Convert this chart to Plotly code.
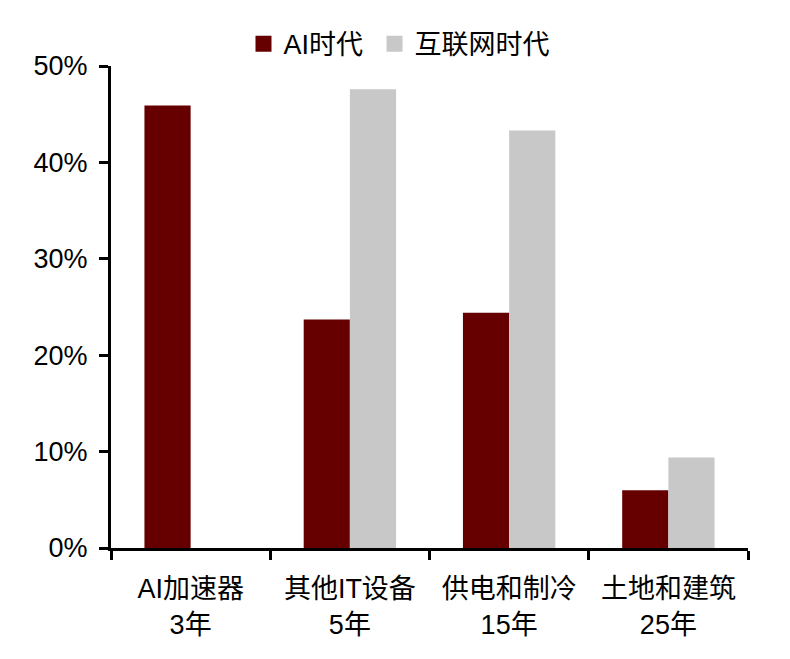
import plotly.graph_objects as go

categories = ["AI加速器<br>3年", "其他IT设备<br>5年", "供电和制冷<br>15年", "土地和建筑<br>25年"]
ai_era = [45.9, 23.7, 24.4, 6.0]
internet_era = [None, 47.6, 43.3, 9.4]
y_ticks = [0, 10, 20, 30, 40, 50]
y_tick_labels = ["0%", "10%", "20%", "30%", "40%", "50%"]
series_names = ["AI时代", "互联网时代"]
series_colors = ["#660000", "#C8C8C8"]

FONT = "Liberation Sans, Arial, Noto Sans CJK SC, sans-serif"

fig = go.Figure()
fig.add_trace(go.Bar(name=series_names[0], x=categories, y=ai_era, marker_color=series_colors[0],
                     marker_line_width=0, showlegend=False))
fig.add_trace(go.Bar(name=series_names[1], x=categories, y=internet_era, marker_color=series_colors[1],
                     marker_line_width=0, showlegend=False))
# legend proxies (square symbols like the reference)
for name, color, lg in zip(series_names, series_colors, ["legend", "legend2"]):
    fig.add_trace(go.Scatter(name=name, x=[None], y=[None], mode="markers", legend=lg,
                             marker=dict(symbol="square", size=17, color=color)))

legend_style = dict(orientation="h", xanchor="left", y=1.045, yanchor="middle",
                    font=dict(size=27), itemwidth=30, bgcolor="rgba(0,0,0,0)")

fig.update_layout(
    width=790, height=659,
    margin=dict(l=103, r=50, t=58, b=119),
    paper_bgcolor="white", plot_bgcolor="white",
    barmode="group", bargap=0.42, bargroupgap=0,
    font=dict(family=FONT, size=27, color="black"),
    legend=dict(x=0.208, **legend_style),
    legend2=dict(x=0.4137, **legend_style),
    showlegend=True,
)
fig.update_xaxes(showline=True, linecolor="black", linewidth=3, ticks="outside",
                 tickson="boundaries", ticklen=9, tickwidth=3, tickcolor="black",
                 showgrid=False, tickfont=dict(size=27), ticklabelstandoff=15)
fig.update_yaxes(range=[0, 50], tickvals=y_ticks, ticktext=y_tick_labels,
                 showline=True, linecolor="black", linewidth=3, ticks="outside",
                 ticklen=9, tickwidth=3, tickcolor="black", showgrid=False,
                 zeroline=False, tickfont=dict(size=27), ticklabelstandoff=6)

fig.write_html("out.html")
